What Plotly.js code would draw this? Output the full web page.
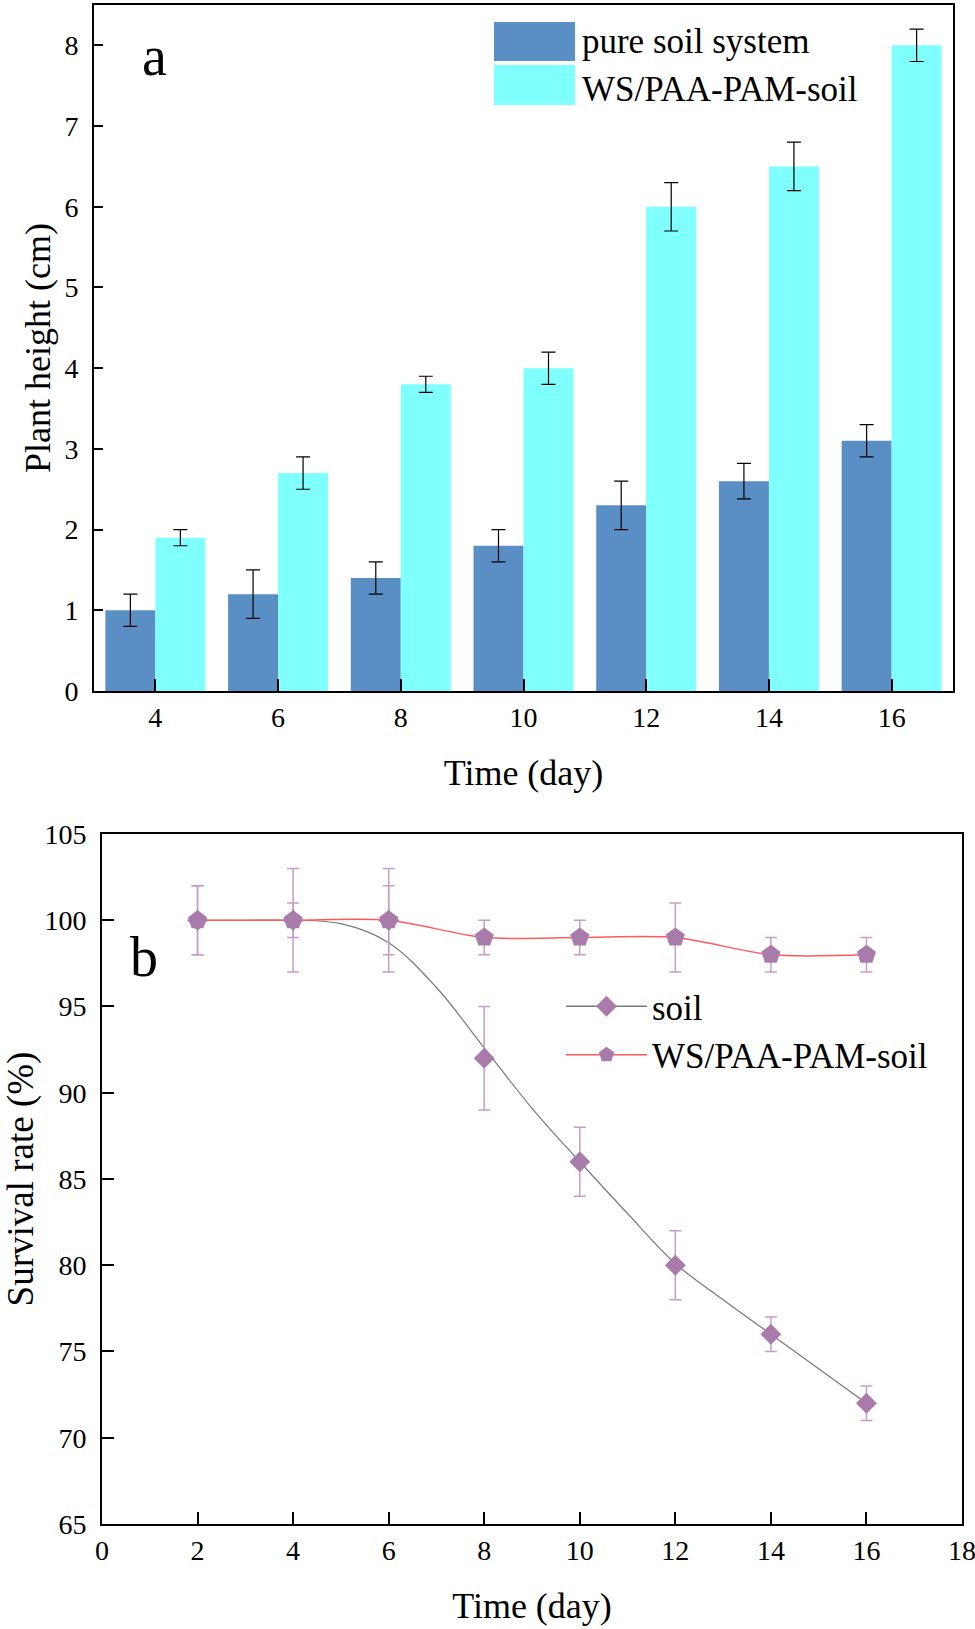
<!DOCTYPE html>
<html>
<head>
<meta charset="utf-8">
<script src="https://cdn.plot.ly/plotly-3.0.1.min.js"></script>
<style>html,body{margin:0;padding:0;background:#fff;}#chart{width:975px;height:1629px;}</style>
</head>
<body>
<div id="chart"></div>
<script>
// ---- Panel a: plant height ----
const days = [4, 6, 8, 10, 12, 14, 16];
const pureSoil = [1.0, 1.2, 1.4, 1.8, 2.3, 2.6, 3.1];
const pureSoilErr = [0.2, 0.3, 0.2, 0.2, 0.3, 0.22, 0.2];
const wsSoil = [1.9, 2.7, 3.8, 4.0, 6.0, 6.5, 8.0];
const wsSoilErr = [0.1, 0.2, 0.1, 0.2, 0.3, 0.3, 0.2];
const barNames = ['pure soil system', 'WS/PAA-PAM-soil'];

// ---- Panel b: survival rate ----
const days2 = [2, 4, 6, 8, 10, 12, 14, 16];
const soilSurv = [100, 100, 100, 92, 86, 80, 76, 72];
const soilSurvErr = [2, 3, 3, 3, 2, 2, 1, 1];
const wsSurv = [100, 100, 100, 99, 99, 99, 98, 98];
const wsSurvErr = [2, 1, 2, 1, 1, 2, 1, 1];
// fitted curve for soil
const fitDays = [2, 3, 4, 5, 6, 7, 8, 9, 10, 11, 12, 13, 14, 15, 16];
const fitSoil = [100, 100, 100, 99.8, 98.7, 96.1, 92.6, 89.1, 86.0, 83.0, 80.1, 78.0, 76.0, 74.0, 72.0];
const lineNames = ['soil', 'WS/PAA-PAM-soil'];

const FONT = 'Liberation Serif, Times New Roman, serif';
const darkBlue = 'rgb(90,143,198)';
const cyan = 'rgb(128,255,255)';
const purple = 'rgb(168,123,170)';
const purpleErr = 'rgb(200,156,202)';
const greyLine = 'rgb(120,120,120)';
const redLine = 'rgb(255,90,90)';

const traces = [
  {type: 'bar', x: days, y: pureSoil, name: barNames[0], xaxis: 'x', yaxis: 'y',
   marker: {color: darkBlue, line: {width: 0}}, legend: 'legend',
   error_y: {type: 'data', array: pureSoilErr, visible: true, color: '#000', thickness: 1.2, width: 7}},
  {type: 'bar', x: days, y: wsSoil, name: barNames[1], xaxis: 'x', yaxis: 'y',
   marker: {color: cyan, line: {width: 0}}, legend: 'legend',
   error_y: {type: 'data', array: wsSoilErr, visible: true, color: '#000', thickness: 1.2, width: 7}},
  // soil fitted line
  {type: 'scatter', mode: 'lines', x: fitDays, y: fitSoil, xaxis: 'x2', yaxis: 'y2',
   line: {color: greyLine, width: 1.2, shape: 'spline'}, showlegend: false, hoverinfo: 'skip'},
  // WS line + markers
  {type: 'scatter', mode: 'lines+markers', x: days2, y: wsSurv, name: lineNames[1], xaxis: 'x2', yaxis: 'y2',
   line: {color: redLine, width: 1.5, shape: 'spline', smoothing: 0.8}, showlegend: false,
   marker: {symbol: 'pentagon', size: 20, color: purple},
   error_y: {type: 'data', array: wsSurvErr, visible: true, color: purpleErr, thickness: 1.5, width: 6}},
  // soil markers
  {type: 'scatter', mode: 'markers', x: days2, y: soilSurv, name: lineNames[0], xaxis: 'x2', yaxis: 'y2',
   marker: {symbol: 'diamond', size: 16, color: purple}, showlegend: false,
   error_y: {type: 'data', array: soilSurvErr, visible: true, color: purpleErr, thickness: 1.5, width: 6}},
  // legend entries for panel b
  {type: 'scatter', mode: 'lines+markers', x: [null], y: [null], name: lineNames[0], xaxis: 'x2', yaxis: 'y2',
   line: {color: greyLine, width: 1.5}, marker: {symbol: 'diamond', size: 16, color: purple}, legend: 'legend2'},
  {type: 'scatter', mode: 'lines+markers', x: [null], y: [null], name: lineNames[1], xaxis: 'x2', yaxis: 'y2',
   line: {color: redLine, width: 1.5}, marker: {symbol: 'pentagon', size: 18, color: purple}, legend: 'legend2'}
];

function axis(extra) {
  return Object.assign({
    showline: true, linewidth: 2, linecolor: '#000', mirror: true,
    ticks: 'inside', tickwidth: 2, tickcolor: '#000', showgrid: false, zeroline: false,
    ticklabeloverflow: 'allow',
    tickfont: {family: FONT, size: 28, color: '#000'}
  }, extra);
}

const layout = {
  width: 975, height: 1629,
  margin: {l: 94, r: 12, t: 5, b: 105},
  paper_bgcolor: '#fff', plot_bgcolor: '#fff',
  font: {family: FONT, color: '#000'},
  barmode: 'group', bargap: 0.185, bargroupgap: 0,
  showlegend: true,
  xaxis: axis({
    domain: [0, 0.98849], range: [3, 17], tickvals: days, ticklen: 12, anchor: 'y',
    title: {text: 'Time (day)', font: {family: FONT, size: 36, color: '#000'}, standoff: 28}
  }),
  yaxis: axis({
    domain: [0.54839, 1], range: [0, 8.5], dtick: 1, ticklen: 9, anchor: 'x',
    ticklabelstandoff: 8,
    title: {text: 'Plant height (cm)', font: {family: FONT, size: 36, color: '#000'}, standoff: 3}
  }),
  xaxis2: axis({
    domain: [0.0092, 0.99885], range: [0, 18], dtick: 2, ticklen: 12, anchor: 'y2',
    title: {text: 'Time (day)', font: {family: FONT, size: 36, color: '#000'}, standoff: 28}
  }),
  yaxis2: axis({
    domain: [0, 0.45425], range: [65, 105], dtick: 5, ticklen: 12, anchor: 'x2',
    ticklabelstandoff: 8,
    title: {text: 'Survival rate (%)', font: {family: FONT, size: 37, color: '#000'}, standoff: 1}
  }),
  legend: {x: 0.5155, y: 0.9967, xanchor: 'left', yanchor: 'top', bgcolor: 'rgba(0,0,0,0)',
           font: {family: FONT, size: 35, color: '#000'}, tracegroupgap: 0, traceorder: 'normal'},
  legend2: {x: 0.5374, y: 0.3601, xanchor: 'left', yanchor: 'top', bgcolor: 'rgba(0,0,0,0)',
            itemwidth: 81, font: {family: FONT, size: 35, color: '#000'}, traceorder: 'normal'},
  shapes: [
    {type: 'rect', xref: 'paper', yref: 'paper', x0: 0.4603, x1: 0.5535, y0: 0.9631, y1: 0.9888,
     fillcolor: darkBlue, line: {width: 0}, layer: 'above'},
    {type: 'rect', xref: 'paper', yref: 'paper', x0: 0.4603, x1: 0.5535, y0: 0.9342, y1: 0.9605,
     fillcolor: cyan, line: {width: 0}, layer: 'above'}
  ],
  annotations: [
    {text: 'a', xref: 'x', yref: 'y', x: 3.98, y: 7.87, showarrow: false,
     font: {family: FONT, size: 56, color: '#000'}},
    {text: 'b', xref: 'x2', yref: 'y2', x: 0.88, y: 97.87, showarrow: false,
     font: {family: FONT, size: 56, color: '#000'}}
  ]
};

Plotly.newPlot('chart', traces, layout, {displayModeBar: false, staticPlot: true});
</script>
</body>
</html>
